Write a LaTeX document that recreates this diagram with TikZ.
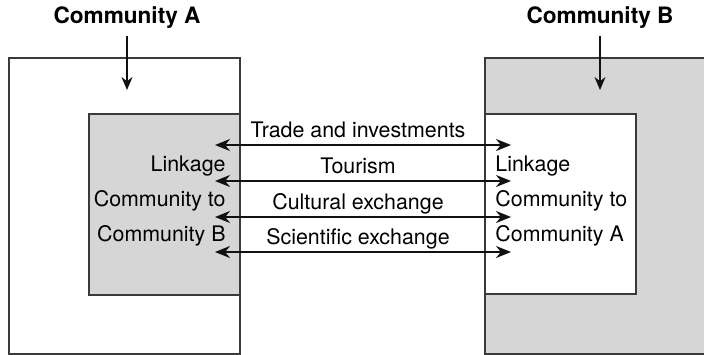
\documentclass[tikz,border=0pt]{standalone}
\usepackage{fontspec}
\setmainfont{TeX Gyre Heros}
\usetikzlibrary{arrows.meta, positioning}
\definecolor{box-fill}{HTML}{D6D6D6}
\definecolor{box-border}{HTML}{3A3A3A}
\definecolor{arrow}{HTML}{111111}
\tikzset{
  comm-box/.style={
    rectangle, draw=box-border, line width=0.75pt,
    anchor=north west, inner sep=0pt
  },
  comm-title/.style={font=\fontsize{11.3}{13}\selectfont\bfseries},
  comm-text/.style={font=\fontsize{10.7}{17.5}\selectfont, inner sep=0pt},
  title-edge/.style={-{Stealth[length=6.5pt, width=5.5pt]}, line width=0.65pt, draw=arrow},
  link-edge/.style={{Stealth[length=7.5pt, width=6pt]}-{Stealth[length=7.5pt, width=6pt]},
    line width=1pt, draw=arrow},
  link-label/.style={font=\fontsize{10.7}{12}\selectfont, anchor=base}
}

\begin{document}
\begin{tikzpicture}[x=0.5pt, y=-0.5pt]
  \useasboundingbox (0,0) rectangle (704,354);

  % Outer boxes first, inner boxes drawn over them
  \node[comm-box, fill=white,    minimum width=115.5pt, minimum height=148pt] (outerA) at (8,57) {};
  \node[comm-box, fill=box-fill, minimum width=111pt,   minimum height=148pt] (outerB) at (484,57) {};
  \node[comm-box, fill=box-fill, minimum width=75.5pt,  minimum height=90.5pt] (innerA) at (88,113) {};
  \node[comm-box, fill=white,    minimum width=75.5pt,  minimum height=90pt]   (innerB) at (484,113) {};

  % Titles pointing down into each community
  \node[comm-title] (titleA) at (127,18) {Community A};
  \node[comm-title] (titleB) at (600,18) {Community B};
  \coordinate (downA) at (127,90);
  \coordinate (downB) at (600,90);
  \draw[title-edge] (titleA) -- (downA);
  \draw[title-edge] (titleB) -- (downB);

  % Linkage text inside the inner boxes
  \node[comm-text, anchor=east, align=right] (linkA) at (226,201)
    {Linkage\\Community to\\Community B};
  \node[comm-text, anchor=west, align=left] (linkB) at (495,201)
    {Linkage\\Community to\\Community A};

  % Two-way exchanges between the communities
  \foreach \y/\txt [count=\i] in {145/Trade and investments, 181/Tourism,
                                  217/Cultural exchange, 252/Scientific exchange} {
    \coordinate (endA-\i) at (215,\y);
    \coordinate (endB-\i) at (511,\y);
    \draw[link-edge] (endA-\i) -- (endB-\i);
    \node[link-label] (label-\i) at (358,\y-8) {\txt};
  }
\end{tikzpicture}
\end{document}
